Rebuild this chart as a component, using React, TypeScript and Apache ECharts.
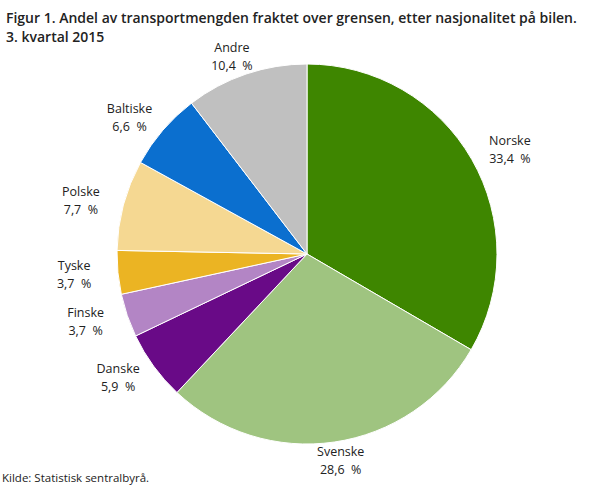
import { useEffect, useRef } from "react";
import * as echarts from "echarts";

const categories = ["Norske", "Svenske", "Danske", "Finske", "Tyske", "Polske", "Baltiske", "Andre"];
const shares = [33.4, 28.6, 5.9, 3.7, 3.7, 7.7, 6.6, 10.4];
const colors = ["#3e8600", "#9fc480", "#690a87", "#b385c5", "#ebb423", "#f5d892", "#0b6fcf", "#c0c0c0"];

const title = "Figur 1. Andel av transportmengden fraktet over grensen, etter nasjonalitet på bilen.\n3. kvartal 2015";
const source = "Kilde: Statistisk sentralbyrå.";

const CX = 307;
const CY = 254;
const R = 190;

export default function App() {
  const chartRef = useRef<HTMLDivElement | null>(null);

  useEffect(() => {
    document.body.style.margin = "0";
    if (!chartRef.current) return;
    const chart = echarts.init(chartRef.current, null, { renderer: "svg" });

    const total = shares.reduce((a, b) => a + b, 0);
    const mids: number[] = [];
    let acc = 0;
    shares.forEach((v) => {
      mids.push(((acc + v / 2) / total) * Math.PI * 2);
      acc += v;
    });

    chart.setOption({
      animation: false,
      textStyle: { fontFamily: "Open Sans" },
      title: {
        text: title,
        left: 1,
        top: 3,
        textStyle: { fontFamily: "Open Sans", fontSize: 14, fontWeight: 600, color: "#222", lineHeight: 19 }
      },
      graphic: [
        {
          type: "text",
          left: 2,
          top: 471,
          style: { text: source, fontFamily: "Open Sans", fontSize: 11.5, fill: "#222" }
        }
      ],
      series: [
        {
          type: "pie",
          center: [CX, CY],
          radius: [0, R],
          startAngle: 90,
          clockwise: true,
          itemStyle: { borderColor: "#fff", borderWidth: 1 },
          label: {
            show: true,
            position: "outside",
            color: "#222",
            fontSize: 12.5,
            lineHeight: 18,
            fontFamily: "Open Sans",
            formatter: (p: any) => `${p.name}\n${String(p.value).replace(".", ",")}\u00a0 %`
          },
          labelLine: { show: false },
          labelLayout: (params: any) => {
            const a = mids[params.dataIndex];
            const dx = Math.sin(a);
            const dy = -Math.cos(a);
            return {
              x: CX + (R + 8) * dx + 36 * dx,
              y: CY + (R + 8) * dy + 11 * dy,
              align: "center",
              verticalAlign: "middle"
            };
          },
          data: categories.map((name, i) => ({
            name,
            value: shares[i],
            itemStyle: { color: colors[i] }
          }))
        }
      ]
    });

    return () => {
      chart.dispose();
    };
  }, []);

  return <div ref={chartRef} style={{ width: 609, height: 489 }} />;
}
